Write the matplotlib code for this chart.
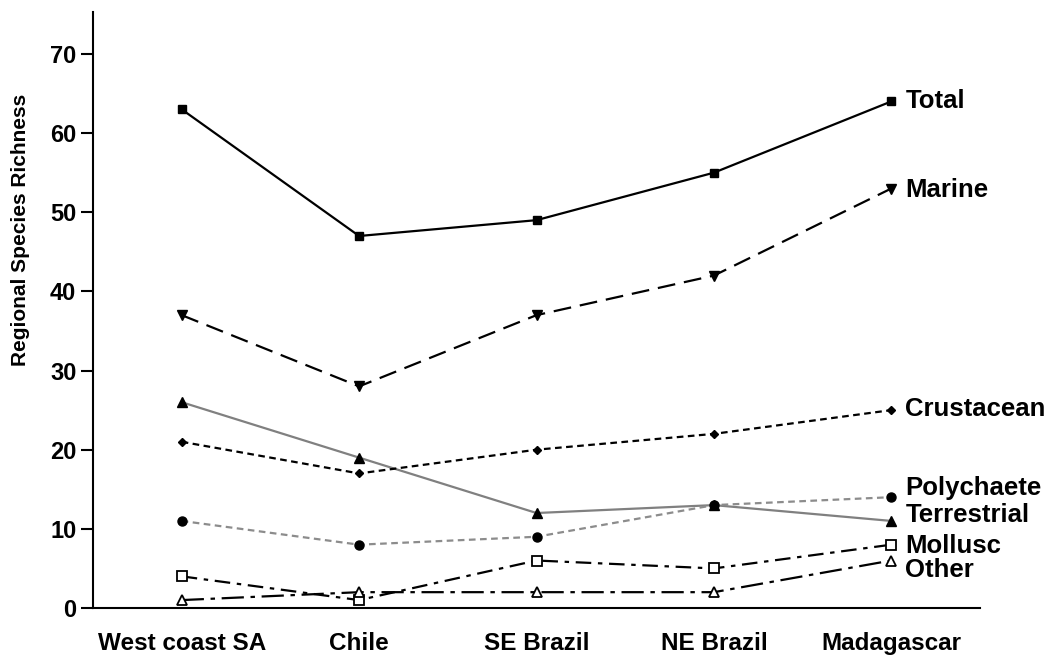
import matplotlib
matplotlib.use("Agg")
import matplotlib.pyplot as plt
import numpy as np

plt.rcParams['font.family'] = ['Liberation Sans', 'DejaVu Sans']
plt.rcParams['font.weight'] = 'bold'

regions = ["West coast SA", "Chile", "SE Brazil", "NE Brazil", "Madagascar"]

total = [63, 47, 49, 55, 64]
marine = [37, 28, 37, 42, 53]
crustacean = [21, 17, 20, 22, 25]
terrestrial = [26, 19, 12, 13, 11]
polychaete = [11, 8, 9, 13, 14]
mollusc = [4, 1, 6, 5, 8]
other = [1, 2, 2, 2, 6]

# label name, label y position
end_labels = [("Total", 64.1), ("Marine", 52.8), ("Crustacean", 25.2),
              ("Polychaete", 15.2), ("Terrestrial", 11.7),
              ("Mollusc", 7.8), ("Other", 4.8)]

fig = plt.figure(figsize=(10.55, 6.56), dpi=100)
ax = fig.add_axes([93/1055, 1-608/656, (980-93)/1055, (608-12)/656])

x = np.arange(len(regions))

ax.plot(x, total, color='black', lw=1.6, marker='s', ms=6, zorder=5)
ax.plot(x, marine, color='black', lw=1.6, ls=(0, (8, 4)), marker='v', ms=7, zorder=5)
ax.plot(x, crustacean, color='black', lw=1.6, ls=(0, (3, 2)), marker='D', ms=4.5, zorder=5)
ax.plot(x, terrestrial, color='#808080', lw=1.6, marker='^', mfc='black', mec='black', ms=7, zorder=4)
ax.plot(x, polychaete, color='#8c8c8c', lw=1.6, ls=(0, (3, 2)), marker='o', mfc='black', mec='black', ms=6.5, zorder=4)
ax.plot(x, mollusc, color='black', lw=1.6, ls=(0, (7, 3, 2, 3)), marker='s', mfc='white', mec='black', mew=1.3, ms=6.5, zorder=5)
ax.plot(x, other, color='black', lw=1.6, ls=(0, (10, 3, 2, 3)), marker='^', mfc='white', mec='black', mew=1.3, ms=7, zorder=5)

for name, yy in end_labels:
    ax.text(4.08, yy, name, fontsize=18.5, fontweight='bold', va='center', ha='left')

ax.set_xlim(-0.5, 4.5)
ax.set_ylim(0, 75.3)
ax.set_xticks(x)
ax.set_xticklabels(regions, fontsize=17.5, fontweight='bold')
ax.set_yticks(np.arange(0, 71, 10))
ax.tick_params(axis='y', labelsize=17, width=1.5, length=9, pad=3)
ax.tick_params(axis='x', length=0, pad=17)
for lab in ax.get_yticklabels():
    lab.set_fontweight('bold')

ax.spines['top'].set_visible(False)
ax.spines['right'].set_visible(False)
ax.spines['left'].set_linewidth(1.5)
ax.spines['bottom'].set_linewidth(1.5)

fig.text(21/1055, 1-230/656, 'Regional Species Richness', rotation=90,
         fontsize=15, fontweight='bold', ha='center', va='center')

fig.savefig("out.png", dpi=100)
